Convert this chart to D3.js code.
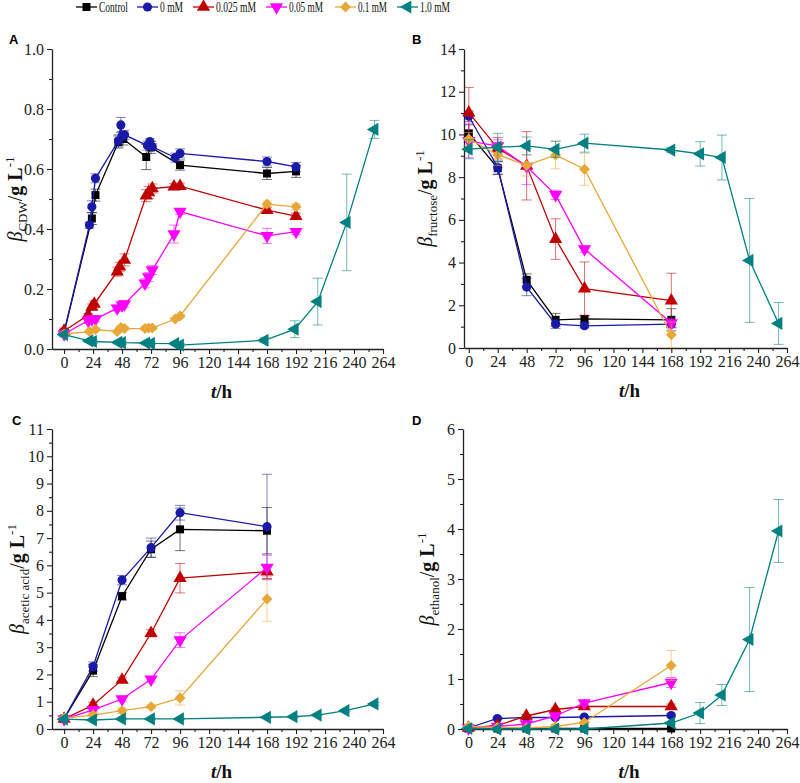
<!DOCTYPE html>
<html>
<head>
<meta charset="utf-8">
<script src="https://cdn.jsdelivr.net/npm/d3@7"></script>
<style>
  body { margin: 0; background: #fff; }
  svg text { font-family: 'Liberation Serif', 'DejaVu Serif', serif; }
</style>
</head>
<body>
<svg id="chart" width="800" height="783"></svg>
<script>
// series info
var seriesNames = ["Control", "0 mM", "0.025 mM", "0.05 mM", "0.1 mM", "1.0 mM"];
var seriesColors = ["#000000", "#1a1aa8", "#c00000", "#ff00ff", "#e8a838", "#008080"];
var xTicks = [0, 24, 48, 72, 96, 120, 144, 168, 192, 216, 240, 264];
var serif = "'Liberation Serif', 'DejaVu Serif', serif";

// panel A : CDW, [time, value, sd]
var cdwControl = [[0,0.055,0.01],[23,0.435,0.02],[26,0.513,0.02],[45,0.69,0.02],[49,0.70,0.02],[68,0.64,0.042],[72,0.672,0.02],[96,0.613,0.017],[168,0.585,0.02],[192,0.592,0.02]];
var cdwZero = [[0,0.055,0.01],[21,0.413,0.01],[23,0.474,0.02],[26,0.569,0.015],[45,0.694,0.02],[47,0.747,0.025],[48,0.71,0.015],[50,0.714,0.015],[69,0.678,0.015],[71,0.691,0.01],[73,0.674,0.01],[92,0.638,0.015],[96,0.652,0.015],[168,0.625,0.015],[192,0.607,0.015]];
var cdw025 = [[0,0.06,0.01],[20,0.113,0.005],[23,0.14,0.01],[25,0.15,0.01],[44,0.258,0.015],[46,0.274,0.015],[50,0.297,0.02],[68,0.511,0.02],[70,0.522,0.02],[73,0.535,0.015],[91,0.541,0.01],[96,0.543,0.01],[168,0.463,0.01],[192,0.443,0.01]];
var cdw05 = [[0,0.05,0.01],[20,0.095,0.01],[23,0.1,0.01],[26,0.1,0.01],[44,0.136,0.01],[48,0.146,0.01],[50,0.15,0.01],[67,0.219,0.015],[70,0.24,0.015],[73,0.263,0.015],[91,0.383,0.03],[96,0.458,0.01],[168,0.377,0.025],[192,0.391,0.01]];
var cdw01 = [[0,0.05,0.005],[21,0.058,0.005],[26,0.065,0.005],[44,0.058,0.005],[47,0.072,0.005],[50,0.068,0.005],[67,0.068,0.005],[70,0.07,0.005],[73,0.07,0.005],[92,0.1,0.005],[96,0.11,0.005],[168,0.483,0.01],[192,0.474,0.01]];
var cdw10 = [[0,0.048,0.005],[21,0.027,0.005],[24,0.025,0.005],[45,0.022,0.005],[48,0.021,0.005],[68,0.02,0.005],[72,0.019,0.005],[92,0.018,0.005],[96,0.013,0.005],[166,0.029,0.008],[191,0.066,0.028],[210,0.158,0.078],[234,0.422,0.161],[257,0.732,0.03]];

// panel B : fructose
var fruControl = [[0,10.05,0.4],[24,8.42,0.3],[48,3.19,0.28],[72,1.32,0.3],[96,1.36,0.15],[168,1.32,0.52]];
var fruZero = [[0,10.85,0.25],[24,8.45,0.3],[48,2.85,0.4],[72,1.12,0.2],[96,1.04,0.1],[168,1.12,0.15]];
var fru025 = [[0,11.02,1.18],[24,9.35,0.5],[48,8.53,1.6],[72,5.1,0.95],[96,2.78,1.25],[168,2.22,1.28]];
var fru05 = [[0,9.7,0.8],[24,9.45,0.3],[48,8.5,0.85],[72,7.17,0.22],[96,4.63,0.15],[168,1.17,0.2]];
var fru01 = [[0,9.79,0.3],[24,9.05,0.5],[48,8.55,0.5],[72,9.04,0.65],[96,8.37,0.75],[168,0.62,0.6]];
var fru10 = [[0,9.31,0.45],[24,9.4,0.65],[48,9.46,0.42],[72,9.3,0.38],[96,9.59,0.42],[168,9.27,0.12],[192,9.09,0.57],[210,8.92,1.05],[233,4.1,2.9],[257,1.15,0.98]];

// panel C : acetic acid
var aceControl = [[0,0.38,0.05],[24,2.14,0.22],[48,4.87,0.14],[72,6.59,0.3],[96,7.32,0.78],[168,7.27,0.85]];
var aceZero = [[0,0.38,0.05],[24,2.29,0.17],[48,5.46,0.17],[72,6.65,0.35],[96,7.93,0.27],[168,7.42,1.92]];
var ace025 = [[0,0.37,0.05],[24,0.88,0.1],[48,1.8,0.1],[72,3.51,0.13],[96,5.53,0.54],[168,5.77,0.25]];
var ace05 = [[0,0.36,0.05],[24,0.7,0.08],[48,1.1,0.1],[72,1.82,0.1],[96,3.26,0.27],[168,5.92,0.45]];
var ace01 = [[0,0.4,0.05],[24,0.51,0.05],[48,0.67,0.1],[72,0.82,0.06],[96,1.14,0.26],[168,4.77,0.82]];
var ace10 = [[0,0.36,0.03],[24,0.33,0.03],[48,0.37,0.03],[72,0.37,0.03],[96,0.37,0.03],[168,0.43,0.03],[190,0.45,0.03],[210,0.51,0.03],[233,0.67,0.04],[257,0.92,0.05]];

// panel D : ethanol
var ethControl = [[0,0.01,0.01],[24,0.01,0.01],[48,0.01,0.01],[72,0.01,0.01],[96,0.01,0.01],[168,0.01,0.01]];
var ethZero = [[0,0.02,0.01],[24,0.21,0.02],[48,0.23,0.02],[72,0.23,0.02],[96,0.24,0.02],[168,0.27,0.03]];
var eth025 = [[0,0.02,0.01],[24,0.07,0.02],[48,0.26,0.03],[72,0.39,0.03],[96,0.45,0.03],[168,0.45,0.05]];
var eth05 = [[0,0.02,0.01],[24,0.05,0.01],[48,0.1,0.02],[72,0.26,0.03],[96,0.52,0.05],[168,0.93,0.1]];
var eth01 = [[0,0.05,0.02],[24,0.03,0.01],[48,0.02,0.01],[72,0.05,0.01],[96,0.13,0.02],[168,1.27,0.3]];
var eth10 = [[0,0.01,0.01],[24,0,0],[48,0,0],[72,0,0],[96,0,0],[168,0.12,0.02],[192,0.32,0.21],[210,0.68,0.21],[233,1.79,1.04],[257,3.96,0.63]];

var svg = d3.select("#chart");

// marker shapes: square, circle, up triangle, down triangle, diamond, left triangle
function markerPath(i) {
  var shapes = [d3.symbolSquare, d3.symbolCircle, d3.symbolTriangle, d3.symbolTriangle, d3.symbolSquare, d3.symbolTriangle];
  var sizes = [64, 66, 76, 76, 60, 76];
  return d3.symbol().type(shapes[i]).size(sizes[i])();
}
function markerRot(i) {
  return [0, 0, 0, 180, 45, -90][i];
}

function drawPanel(p) {
  var x = d3.scaleLinear().domain(p.xdom).range([p.left, p.right]);
  var y = d3.scaleLinear().domain([0, p.ymax]).range([p.bottom, p.top]);
  var g = svg.append("g");

  // x axis
  g.append("g").attr("transform", "translate(0," + p.bottom + ")")
    .call(d3.axisBottom(x).tickValues(xTicks).tickSize(5).tickSizeOuter(0).tickPadding(3));
  g.append("g").attr("transform", "translate(0," + p.bottom + ")")
    .call(d3.axisBottom(x).tickValues(d3.range(12, 264, 24)).tickSize(3).tickFormat("").tickSizeOuter(0))
    .select(".domain").remove();
  // y axis
  g.append("g").attr("transform", "translate(" + p.left + ",0)")
    .call(d3.axisLeft(y).tickValues(d3.range(0, p.ymax + 0.001, p.ystep)).tickFormat(p.yfmt).tickSize(5).tickSizeOuter(0).tickPadding(3));
  g.append("g").attr("transform", "translate(" + p.left + ",0)")
    .call(d3.axisLeft(y).tickValues(d3.range(p.ystep / 2, p.ymax, p.ystep)).tickSize(3).tickFormat("").tickSizeOuter(0))
    .select(".domain").remove();

  g.selectAll("g").attr("font-family", serif);
  g.selectAll(".domain").attr("stroke", "#222").attr("stroke-width", 1.3);
  g.selectAll(".tick line").attr("stroke", "#222").attr("stroke-width", 1.1);
  g.selectAll(".tick text").style("font-family", serif)
    .style("font-size", "16px").attr("fill", "#222");

  // series
  p.series.forEach(function(data, i) {
    var col = seriesColors[i];
    var sg = g.append("g");
    sg.selectAll(".err").data(data.filter(function(d) { return d[2] > 0; }))
      .enter().append("path")
      .attr("d", function(d) {
        var cx = x(d[0]), y0 = y(d[1] - d[2]), y1 = y(d[1] + d[2]);
        return "M" + (cx - 5) + "," + y0 + "H" + (cx + 5) + "M" + cx + "," + y0 + "V" + y1 + "M" + (cx - 5) + "," + y1 + "H" + (cx + 5);
      })
      .attr("stroke", col).attr("stroke-opacity", 0.55).attr("fill", "none").attr("stroke-width", 1);
    sg.append("path").datum(data)
      .attr("d", d3.line().x(function(d) { return x(d[0]); }).y(function(d) { return y(d[1]); }))
      .attr("fill", "none").attr("stroke", col).attr("stroke-width", 1.3);
    sg.selectAll(".mk").data(data).enter().append("path")
      .attr("d", markerPath(i))
      .attr("transform", function(d) { return "translate(" + x(d[0]) + "," + y(d[1]) + ") rotate(" + markerRot(i) + ")"; })
      .attr("fill", col);
  });

  // panel letter
  svg.append("text").attr("x", p.lx).attr("y", p.ly).text(p.letter)
    .style("font-family", "'Liberation Sans', Arial, sans-serif").style("font-weight", "bold").style("font-size", "13px");

  // y title
  var yt = svg.append("text")
    .attr("transform", "translate(" + p.ytx + "," + ((p.top + p.bottom) / 2) + ") rotate(-90)")
    .attr("text-anchor", "middle").style("font-family", serif).style("font-size", "20px").attr("fill", "#111");
  yt.append("tspan").text("β").style("font-style", "italic");
  yt.append("tspan").text(p.sub).style("font-size", "13px").attr("dy", 5);
  yt.append("tspan").text("/").attr("dy", -5);
  yt.append("tspan").text("g L").style("font-weight", "bold");
  yt.append("tspan").text("-1").style("font-size", "13px").attr("dy", -8);

  // x title
  var xt = svg.append("text").attr("x", (p.left + p.right) / 2 + 4).attr("y", p.bottom + 49)
    .attr("text-anchor", "middle").style("font-family", serif).style("font-size", "19px").style("font-weight", "bold").attr("fill", "#111");
  xt.append("tspan").text("t").style("font-style", "italic");
  xt.append("tspan").text("/h");
}

drawPanel({ letter: "A", lx: 9, ly: 44, ytx: 22, sub: "CDW",
  left: 52, right: 383, top: 49, bottom: 349, xdom: [-10, 264], ymax: 1, ystep: 0.2, yfmt: d3.format(".1f"),
  series: [cdwControl, cdwZero, cdw025, cdw05, cdw01, cdw10] });
drawPanel({ letter: "B", lx: 412, ly: 44, ytx: 432, sub: "fructose",
  left: 464, right: 787, top: 49, bottom: 348, xdom: [-4, 264], ymax: 14, ystep: 2, yfmt: d3.format("d"),
  series: [fruControl, fruZero, fru025, fru05, fru01, fru10] });
drawPanel({ letter: "C", lx: 12, ly: 425, ytx: 24, sub: "acetic acid",
  left: 52, right: 383, top: 429, bottom: 729, xdom: [-10, 264], ymax: 11, ystep: 1, yfmt: d3.format("d"),
  series: [aceControl, aceZero, ace025, ace05, ace01, ace10] });
drawPanel({ letter: "D", lx: 412, ly: 425, ytx: 434, sub: "ethanol",
  left: 463, right: 787, top: 429, bottom: 729, xdom: [-4.5, 264], ymax: 6, ystep: 1, yfmt: d3.format("d"),
  series: [ethControl, ethZero, eth025, eth05, eth01, eth10] });

// legend
var legX = [76, 137, 193, 266, 335, 397];
var legW = [29, 23, 40, 34, 29, 30];
var leg = svg.append("g");
seriesNames.forEach(function(name, i) {
  var lg = leg.append("g").attr("transform", "translate(" + legX[i] + ",7)");
  lg.append("line").attr("x1", 0).attr("x2", 21).attr("stroke", seriesColors[i]).attr("stroke-width", 1.3);
  lg.append("path").attr("d", markerPath(i)).attr("fill", seriesColors[i])
    .attr("transform", "translate(10.5,0) rotate(" + markerRot(i) + ")");
  lg.append("text").attr("x", 23).attr("y", 5).text(name)
    .attr("textLength", legW[i]).attr("lengthAdjust", "spacingAndGlyphs")
    .style("font-family", serif).style("font-size", "15px").attr("fill", "#111");
});
</script>
</body>
</html>
